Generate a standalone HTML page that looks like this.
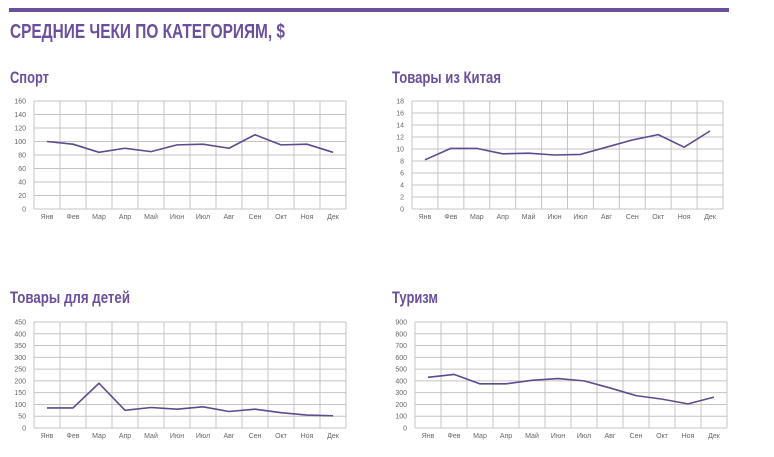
<!DOCTYPE html>
<html><head><meta charset="utf-8"><style>
body{margin:0;background:#fff;width:774px;height:457px;overflow:hidden}
svg{display:block}
text{font-family:"Liberation Sans",sans-serif}
</style></head><body>
<svg id="s" width="774" height="457">
<rect x="9" y="8" width="720" height="4" fill="#6b4f9c"/>
<text x="10" y="38" font-size="20" font-weight="bold" fill="#6b4f9c" textLength="275" lengthAdjust="spacingAndGlyphs">СРЕДНИЕ ЧЕКИ ПО КАТЕГОРИЯМ, $</text>
</svg>
<script>
const months=["Янв","Фев","Мар","Апр","Май","Июн","Июл","Авг","Сен","Окт","Ноя","Дек"];
const sportVals=[100,96,84,90,85,95,96,90,110,95,96,84];
const sportTicks=[0,20,40,60,80,100,120,140,160];
const chinaVals=[8.2,10.1,10.1,9.2,9.3,9.0,9.1,10.3,11.5,12.4,10.3,13.0];
const chinaTicks=[0,2,4,6,8,10,12,14,16,18];
const kidsVals=[85,85,190,75,87,80,90,70,80,65,55,52];
const kidsTicks=[0,50,100,150,200,250,300,350,400,450];
const tourVals=[430,455,375,375,405,420,400,340,275,245,205,262];
const tourTicks=[0,100,200,300,400,500,600,700,800,900];
const svg=document.getElementById('s');
const NS='http://www.w3.org/2000/svg';
function mk(t,a){const e=document.createElementNS(NS,t);for(const k in a)e.setAttribute(k,a[k]);svg.appendChild(e);return e;}
function chart(name,title,tw,tx,ty,x0,x1,y0,y1,vals,ticks){
  const tt=mk('text',{x:tx,y:ty,'font-size':17,'font-weight':'bold',fill:'#6b4f9c',textLength:tw,lengthAdjust:'spacingAndGlyphs'});tt.textContent=title;
  
  
  const max=ticks[ticks.length-1];
  const ys=v=>y1-(v/max)*(y1-y0);
  const cw=(x1-x0)/months.length;
  const xs=i=>x0+cw*(i+0.5);
  ticks.forEach(t=>{
    const l=mk('line',{x1:x0,x2:x1,y1:ys(t),y2:ys(t),stroke:'#c4c4c4','stroke-width':1});
    
    
    const lb=mk('text',{x:x0-8,y:ys(t)+2.5,'font-size':7,fill:'#666','text-anchor':'end'});lb.textContent=t;
    
    
  });
  for(let i=0;i<=months.length;i++){
    const l=mk('line',{x1:x0+cw*i,x2:x0+cw*i,y1:y0,y2:y1,stroke:'#c4c4c4','stroke-width':1});
    
    
  }
  months.forEach((m,i)=>{
    const lb=mk('text',{x:xs(i),y:y1+10,'font-size':7,fill:'#666','text-anchor':'middle'});lb.textContent=m;
    
    
  });
  const p=mk('polyline',{points:vals.map((v,i)=>xs(i)+','+ys(v)).join(' '),fill:'none',stroke:'#5e4a8e','stroke-width':1.6,'stroke-linejoin':'round'});
  
  
}
chart('sport','Спорт',39,10,83,34,346,101,209,sportVals,sportTicks);
chart('china','Товары из Китая',109,392,83,412,723,101,209,chinaVals,chinaTicks);
chart('kids','Товары для детей',120,10,303,34,346,322,428,kidsVals,kidsTicks);
chart('tourism','Туризм',46,392,303,415,727,322,428,tourVals,tourTicks);
</script>
</body></html>
